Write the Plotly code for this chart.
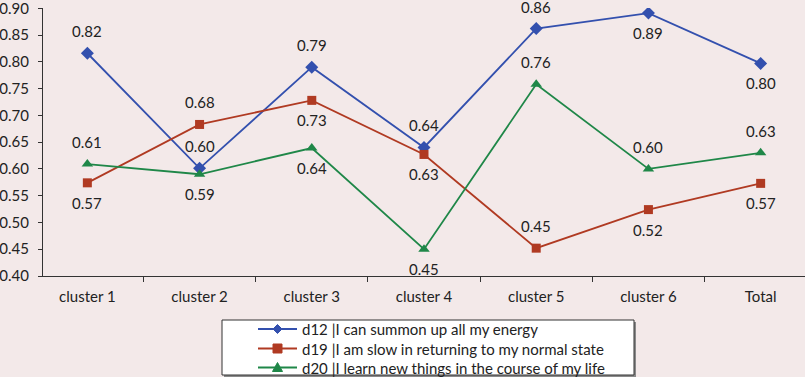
import plotly.graph_objects as go

categories = ["cluster 1", "cluster 2", "cluster 3", "cluster 4", "cluster 5", "cluster 6", "Total"]
d12 = [0.816, 0.601, 0.790, 0.640, 0.862, 0.891, 0.797]
d19 = [0.574, 0.683, 0.728, 0.627, 0.452, 0.524, 0.573]
d20 = [0.609, 0.590, 0.639, 0.450, 0.758, 0.600, 0.630]
names = ["d12 |I can summon up all my energy",
         "d19 |I am slow in returning to my normal state",
         "d20 |I learn new things in the course of my life"]
ytick_vals = [0.40, 0.45, 0.50, 0.55, 0.60, 0.65, 0.70, 0.75, 0.80, 0.85, 0.90]
# label side: 1 = above, -1 = below
pos12 = [1, 1, 1, 1, 1, -1, -1]
pos19 = [-1, 1, -1, -1, 1, -1, -1]
pos20 = [1, -1, -1, -1, 1, 1, 1]

colors = ["#3350AE", "#B03A22", "#1F8748"]
symbols = ["diamond", "square", "triangle-up"]
sizes = [10, 9, 10]
bg = "#F3E9E9"
font = "Lato, Open Sans, sans-serif"

W, H = 805, 377
ML, MR, MT, MB = 43, 0, 8, 101
PW, PH = W - ML - MR, H - MT - MB


def px_x(x):
    return (x - ML) / PW


def px_y(y):
    return (H - MB - y) / PH


fig = go.Figure()
annotations = []
for vals, pos, name, c, s, sz in zip([d12, d19, d20], [pos12, pos19, pos20], names, colors, symbols, sizes):
    fig.add_trace(go.Scatter(x=categories, y=vals, mode="lines+markers", name=name,
                             line=dict(color=c, width=1.8),
                             marker=dict(symbol=s, size=sz, color=c),
                             hoverinfo="skip", showlegend=False))
    for cat, v, p in zip(categories, vals, pos):
        annotations.append(dict(x=cat, y=v, text=f"{v:.2f}", showarrow=False,
                                yshift=(22 if p > 0 else -20), font=dict(size=15, color="#222", family=font)))

# custom legend box (Excel style)
shapes = []
box_l, box_r, box_t, box_b = 222, 634, 320, 375
shapes.append(dict(type="rect", xref="paper", yref="paper",
                   x0=px_x(box_l + 2), x1=px_x(box_r + 2), y0=px_y(box_t + 2), y1=px_y(box_b + 2),
                   fillcolor="#8a8a8a", line=dict(width=0), layer="above"))
shapes.append(dict(type="rect", xref="paper", yref="paper",
                   x0=px_x(box_l), x1=px_x(box_r), y0=px_y(box_t), y1=px_y(box_b),
                   fillcolor="white", line=dict(color="#333", width=1), layer="above"))
marker_paths = {
    "diamond": "M0,-4.5 L4.5,0 L0,4.5 L-4.5,0 Z",
    "square": "M-4.5,-4.5 L4.5,-4.5 L4.5,4.5 L-4.5,4.5 Z",
    "triangle-up": "M-5,-4 L5,-4 L0,5 Z",
}
row_y = [329, 348.5, 367.5]
for name, c, s, ry in zip(names, colors, symbols, row_y):
    shapes.append(dict(type="line", xref="paper", yref="paper",
                       x0=px_x(258), x1=px_x(297), y0=px_y(ry), y1=px_y(ry),
                       line=dict(color=c, width=1.8), layer="above"))
    shapes.append(dict(type="path", xref="paper", yref="paper",
                       xsizemode="pixel", ysizemode="pixel",
                       xanchor=px_x(277.5), yanchor=px_y(ry),
                       path=marker_paths[s], fillcolor=c, line=dict(color=c, width=1),
                       layer="above"))
    annotations.append(dict(xref="paper", yref="paper", x=px_x(300), y=px_y(ry),
                            xanchor="left", yanchor="middle", text=name, showarrow=False,
                            font=dict(size=15, color="#222", family=font)))

fig.update_layout(
    width=W, height=H,
    margin=dict(l=ML, r=MR, t=MT, b=MB, autoexpand=False),
    paper_bgcolor=bg, plot_bgcolor=bg,
    font=dict(family=font, size=15, color="#222"),
    annotations=annotations,
    shapes=shapes,
    showlegend=False,
    xaxis=dict(showline=True, linecolor="#333", linewidth=1, ticks="outside",
               tickson="boundaries", ticklen=5, tickcolor="#333", automargin=False,
               showgrid=False, zeroline=False, fixedrange=True,
               tickfont=dict(size=15), ticklabelstandoff=7),
    yaxis=dict(range=[0.40, 0.9005], tickvals=ytick_vals, tickformat=".2f",
               showline=True, linecolor="#333", linewidth=1, ticks="outside",
               ticklen=4, tickcolor="#333", showgrid=False, zeroline=False,
               fixedrange=True, automargin=False, tickfont=dict(size=15),
               ticklabeloverflow="allow", ticklabelstandoff=6),
)
fig.write_html("out.html", config={"displayModeBar": False, "staticPlot": True},
               post_script="document.body.style.margin='0';document.body.style.overflow='hidden';")
